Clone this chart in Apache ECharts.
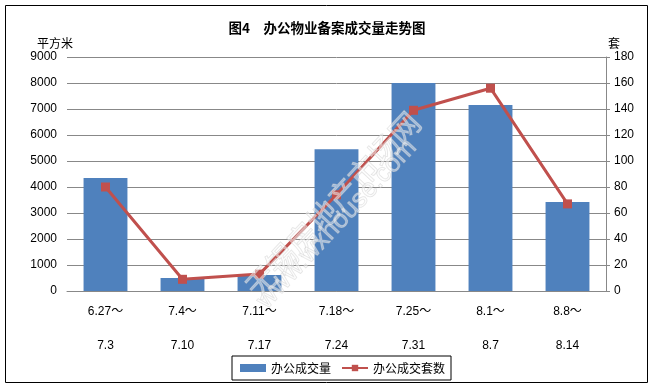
<!DOCTYPE html>
<html><head><meta charset="utf-8">
<script src="https://cdn.jsdelivr.net/npm/echarts@6/dist/echarts.min.js"></script>
<style>html,body{margin:0;padding:0;background:#fff}#c{width:654px;height:387px}</style>
</head><body><div id="c"></div>
<script>
var categories = ["6.27～\n7.3","7.4～\n7.10","7.11～\n7.17","7.18～\n7.24","7.25～\n7.31","8.1～\n8.7","8.8～\n8.14"];
var areaValues = [4350, 500, 620, 5450, 8000, 7150, 3420];
var unitValues = [80, 9, 13, 74, 139, 156, 67];
var leftTicks = {min:0, max:9000, interval:1000};
var rightTicks = {min:0, max:180, interval:20};

var chart = echarts.init(document.getElementById('c'));
var fnt = "'Liberation Sans','Noto Sans CJK SC',sans-serif";
chart.setOption({
  animation:false,
  title:{text:'图4　办公物业备案成交量走势图', left:322, textAlign:'center', top:16,
    textStyle:{fontSize:13.5, fontWeight:'bold', color:'#000', fontFamily:"'Noto Sans CJK SC',sans-serif"}},
  grid:{left:67, right:48, top:57, bottom:96},
  legend:{left:232, top:356, itemWidth:26, itemHeight:8, itemGap:10, padding:[6,6,6,8],
    borderColor:'#000', borderWidth:1, 
    textStyle:{fontSize:12, color:'#000', fontFamily:"'Noto Sans CJK SC',sans-serif"},
    data:[{name:'办公成交量', icon:'rect'},{name:'办公成交套数'}]},
  xAxis:{type:'category', data:categories,
    axisLine:{lineStyle:{color:'#888'}}, axisTick:{show:false},
    axisLabel:{color:'#000', fontSize:12, lineHeight:34, margin:4, fontFamily:fnt, interval:0}},
  yAxis:[
    {type:'value', min:leftTicks.min, max:leftTicks.max, interval:leftTicks.interval,
      name:'平方米', nameLocation:'end', nameGap:8, nameTextStyle:{color:'#000', fontSize:12, align:'center', padding:[0,0,0,-24], fontFamily:"'Noto Sans CJK SC',sans-serif"},
      axisLine:{show:false}, axisTick:{show:false},
      axisLabel:{color:'#000', fontSize:12, margin:10, fontFamily:fnt, formatter:function(v){return String(v);}},
      splitLine:{lineStyle:{color:'#888', width:1}}},
    {type:'value', min:rightTicks.min, max:rightTicks.max, interval:rightTicks.interval,
      name:'套', nameLocation:'end', nameGap:8, nameTextStyle:{color:'#000', fontSize:12, padding:[0,0,0,16], fontFamily:"'Noto Sans CJK SC',sans-serif"},
      axisLine:{show:true, lineStyle:{color:'#888'}}, axisTick:{show:true, length:4, inside:false, lineStyle:{color:'#888'}},
      axisLabel:{color:'#000', fontSize:12, margin:8, fontFamily:fnt, formatter:function(v){return String(v);}},
      splitLine:{show:false}}
  ],
  series:[
    {name:'办公成交量', type:'bar', data:areaValues, barWidth:'57%', yAxisIndex:0,
      itemStyle:{color:'#4F81BD'}},
    {name:'办公成交套数', type:'line', data:unitValues, yAxisIndex:1,
      symbol:'rect', symbolSize:9, lineStyle:{color:'#C0504D', width:3},
      itemStyle:{color:'#C0504D'}, z:5}
  ],
  graphic:[
    {type:'rect', shape:{x:5.5, y:5.5, width:642, height:377}, style:{fill:'none', stroke:'#000', lineWidth:1}, z:-1},
    {type:'text', x:240, y:282, rotation:Math.PI*47/180, z:10,
      style:{text:'无锡房地产市场网', fontSize:30, fill:'rgba(255,255,255,0.45)', stroke:'rgba(200,200,200,0.55)', lineWidth:1, fontFamily:"'Noto Sans CJK SC',sans-serif"}},
    {type:'text', x:252, y:296, rotation:Math.PI*47/180, z:10,
      style:{text:'www.wxhouse.com', fontSize:26, fill:'rgba(255,255,255,0.45)', stroke:'rgba(200,200,200,0.55)', lineWidth:1, fontFamily:"'Liberation Sans',sans-serif"}}
  ]
});
</script></body></html>
